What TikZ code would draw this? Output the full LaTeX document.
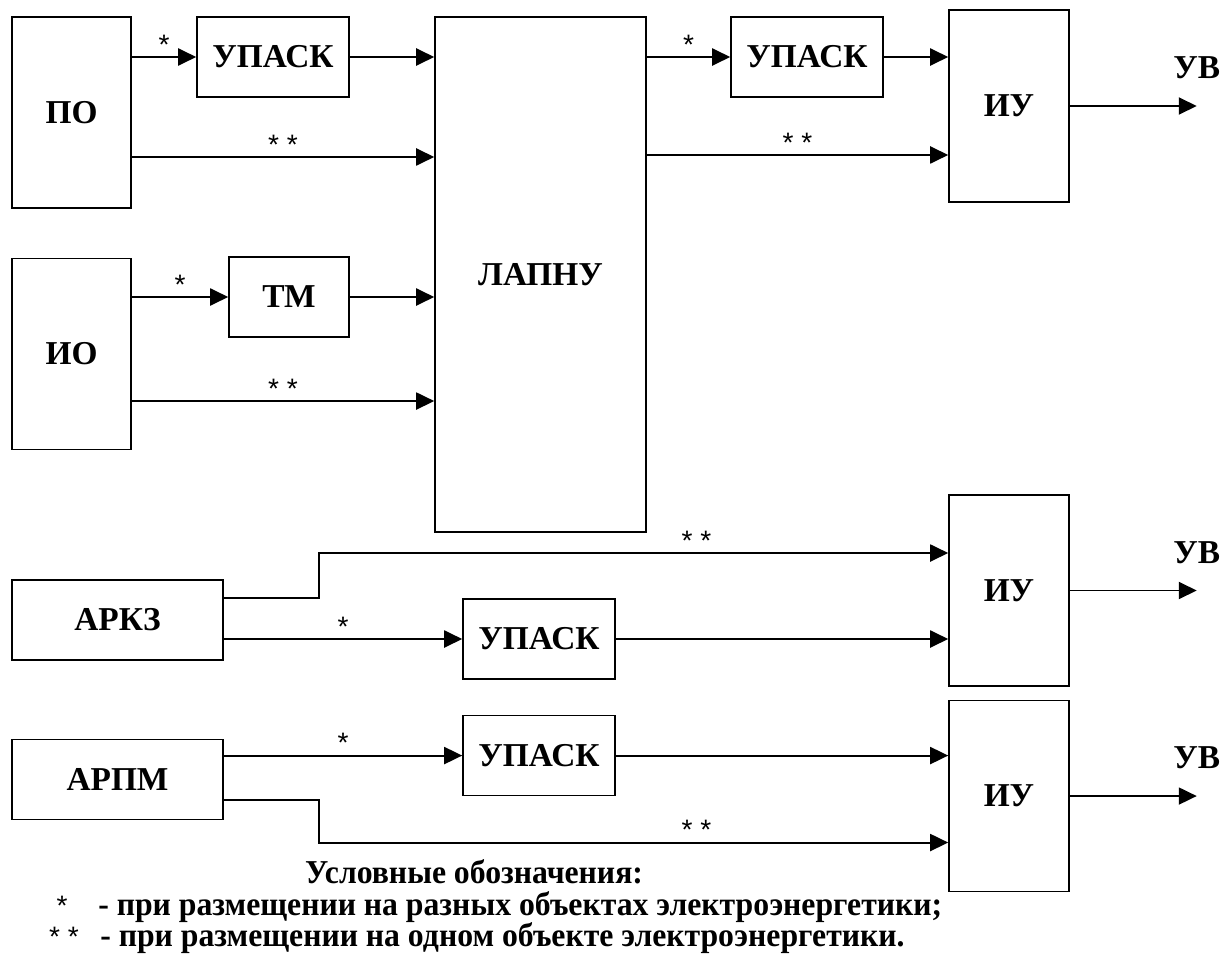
\documentclass[tikz,border=0pt]{standalone}
\usepackage{fontspec}
\setmainfont{Liberation Serif}
\newfontfamily\starfont{Liberation Sans}
\newfontfamily\legfont[FakeStretch=0.95]{Liberation Serif}
\usetikzlibrary{arrows.meta,positioning}

\begin{document}
\begin{tikzpicture}[x=0.02cm, y=-0.02cm, >={Triangle[length=3.6mm,width=3.4mm]},
  main/.style = {draw, line width=0.9pt, inner sep=0pt, font=\bfseries\fontsize{19}{19}\selectfont},
  lnk/.style = {->, line width=1.1pt},
  ast/.style = {above, inner sep=1pt, font=\starfont\fontsize{16}{16}\selectfont},
  uv/.style = {inner sep=0pt, font=\bfseries\fontsize{19}{19}\selectfont},
  note/.style = {inner sep=0pt, font=\legfont\bfseries\fontsize{19}{19}\selectfont}]
\useasboundingbox (0,0) rectangle (1221,960);

% upper part
\node[main, minimum width=2.38cm, minimum height=3.82cm] (PO) at (71.5,112.5) {ПО};
\node[main, minimum width=2.38cm, minimum height=3.82cm] (IO) [below=0.98cm of PO] {ИО};
\node[main, minimum width=3.04cm, minimum height=1.6cm] (upask1) at (273,57) {УПАСК};
\node[main, minimum width=2.4cm, minimum height=1.6cm] (TM) at (289,297) {ТМ};
\node[main, minimum width=4.22cm, minimum height=10.3cm] (lapnu) at (540.5,274.5) {ЛАПНУ};
\node[main, minimum width=3.04cm, minimum height=1.6cm] (upask2) at (807,57) {УПАСК};
\node[main, minimum width=2.4cm, minimum height=3.84cm] (IU1) at (1009,106) {ИУ};

\coordinate (po2) at ([yshift=-0.89cm]PO.east);
\coordinate (io2) at ([yshift=-0.94cm]IO.east);
\coordinate (lp2) at ([yshift=-0.98cm]IU1.west);

\draw[lnk] (PO.east |- upask1) -- node[ast]{*} (upask1.west);
\draw[lnk] (upask1.east) -- (upask1.east -| lapnu.west);
\draw[lnk] (po2) -- node[ast]{* *} (po2 -| lapnu.west);
\draw[lnk] (IO.east |- TM) -- node[ast]{*} (TM.west);
\draw[lnk] (TM.east) -- (TM.east -| lapnu.west);
\draw[lnk] (io2) -- node[ast]{* *} (io2 -| lapnu.west);
\draw[lnk] (lapnu.east |- upask2) -- node[ast]{*} (upask2.west);
\draw[lnk] (upask2.east) -- (upask2.east -| IU1.west);
\draw[lnk] (lp2 -| lapnu.east) -- node[ast]{* *} (lp2);
\draw[lnk] (IU1.east) -- ++(2.54cm,0) coordinate (out1);
\node[uv] (UV1) at ([yshift=0.76cm]out1) {УВ};

% lower part
\node[main, minimum width=4.22cm, minimum height=1.6cm] (arkz) at (117.5,620) {АРКЗ};
\node[main, minimum width=4.22cm, minimum height=1.6cm] (arpm) [below=1.56cm of arkz] {АРПМ};
\node[main, minimum width=3.04cm, minimum height=1.6cm] (upask3) at (539,639) {УПАСК};
\node[main, minimum width=3.04cm, minimum height=1.6cm] (upask4) [below=0.7cm of upask3] {УПАСК};
\node[main, minimum width=2.4cm, minimum height=3.82cm] (IU2) at (1009,590.5) {ИУ};
\node[main, minimum width=2.4cm, minimum height=3.82cm] (IU3) [below=0.26cm of IU2] {ИУ};

\coordinate (ak1) at ([yshift=0.44cm]arkz.east);
\coordinate (ak2) at ([yshift=0.75cm]IU2.west);
\coordinate (ap1) at ([yshift=-0.41cm]arpm.east);
\coordinate (ap2) at ([yshift=-0.93cm]IU3.west);

\draw[lnk] (ak1) -- ++(1.9cm,0) |- node[ast, pos=0.8]{* *} (ak2);
\draw[lnk] (arkz.east |- upask3) -- node[ast]{*} (upask3.west);
\draw[lnk] (upask3.east) -- (upask3.east -| IU2.west);
\draw[lnk] (arpm.east |- upask4) -- node[ast]{*} (upask4.west);
\draw[lnk] (upask4.east) -- (upask4.east -| IU3.west);
\draw[lnk] (ap1) -- ++(1.9cm,0) |- node[ast, pos=0.8]{* *} (ap2);

\draw[lnk] (IU2.east) -- ++(2.54cm,0) coordinate (out2);
\node[uv] (UV2) at ([yshift=0.76cm]out2) {УВ};
\draw[lnk] (IU3.east) -- ++(2.54cm,0) coordinate (out3);
\node[uv] (UV3) at ([yshift=0.76cm]out3) {УВ};

% legend
\node[note, anchor=base] (legend) at (474,883) {Условные обозначения:};
\node[note, anchor=base west] (leg1) at (98,915) {- при размещении на разных объектах электроэнергетики;};
\node[note, anchor=base west] (leg2) at (100,946) {- при размещении на одном объекте электроэнергетики.};
\node[ast, anchor=base] (s1) at (62,915) {*};
\node[ast, anchor=base] (s2) at (64,946) {* *};

\end{tikzpicture}
\end{document}
